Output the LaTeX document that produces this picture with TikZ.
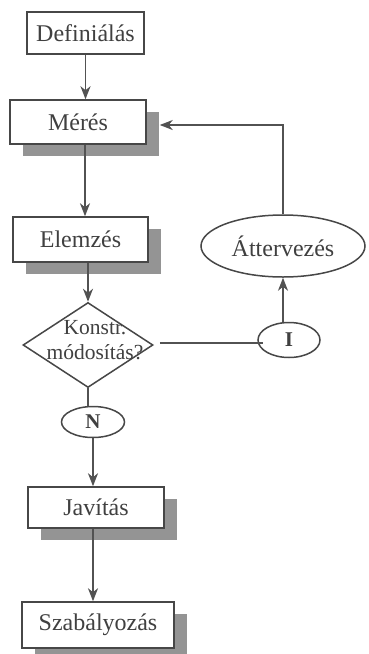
\documentclass[tikz,border=0pt]{standalone}
\usepackage{fontspec}
\setmainfont{Liberation Serif}
\usetikzlibrary{shapes.geometric,arrows.meta,shadows,calc}
\begin{document}
\begin{tikzpicture}[x=1pt,y=-1pt,
  ink/.style={draw=black!72, line width=1.5pt},
  txt/.style={text=black!75, font=\fontsize{24}{28}\selectfont},
  box/.style={ink, txt, fill=white, rectangle, inner sep=0pt},
  shbox/.style={box, drop shadow={shadow xshift=13pt, shadow yshift=-12pt, fill=black!42, opacity=1}},
  oval/.style={ink, txt, fill=white, ellipse, inner sep=0pt},
  arr/.style={draw=black!68, line width=1.7pt, -{Stealth[length=13pt,width=10pt,inset=4pt]}},
  conn/.style={draw=black!68, line width=1.6pt}
]
\useasboundingbox (0,0) rectangle (368,654);

\node[box, minimum width=117pt, minimum height=42pt] (def) at (85.5,33) {Definiálás};
\node[shbox, minimum width=136pt, minimum height=44pt] (mer) at (78,122) {Mérés};
\node[shbox, minimum width=135pt, minimum height=45pt] (elem) at (80.5,239.5) {Elemzés};
\node[diamond, ink, fill=white, minimum width=130pt, minimum height=85pt, inner sep=0pt] (dia) at (88,345) {};
\node[txt, align=center, inner sep=0pt, font=\fontsize{21.5}{25}\selectfont] (dtext) at (95,340) {Konstr.\\módosítás?};
\node[oval, minimum width=164pt, minimum height=62pt] (att) at (283,246) {Áttervezés};
\node[oval, minimum width=62pt, minimum height=35pt, font=\fontsize{21}{25}\selectfont\bfseries] (I) at (289,340) {I};
\node[oval, minimum width=63pt, minimum height=31pt, font=\fontsize{21}{25}\selectfont\bfseries] (N) at (93,422) {N};
\node[shbox, minimum width=136pt, minimum height=41pt] (jav) at (96,507.5) {Javítás};
\node[shbox, minimum width=152pt, minimum height=46pt] (szab) at (98,625) {Szabályozás};

\draw[arr] (def.south) -- (def.south |- mer.north);
\draw[arr] ([xshift=7pt]mer.south) -- ([xshift=7pt]mer.south |- elem.north);
\draw[arr] (elem.south -| dia.north) -- (dia.north);
\draw[conn] (dia.south) -- (dia.south |- N.north);
\draw[arr] (N.south) -- (N.south |- jav.north);
\draw[arr] ([xshift=-3pt]jav.south) -- ([xshift=-3pt]jav.south |- szab.north);
\draw[conn] ([xshift=6pt,yshift=2pt]dia.east) -- ([xshift=6pt,yshift=2pt]dia.east -| I.west);
\draw[arr] (att.south |- I.north) -- (att.south);
\draw[arr] (att.north) |- ([xshift=13pt,yshift=-3pt]mer.east);
\end{tikzpicture}
\end{document}
